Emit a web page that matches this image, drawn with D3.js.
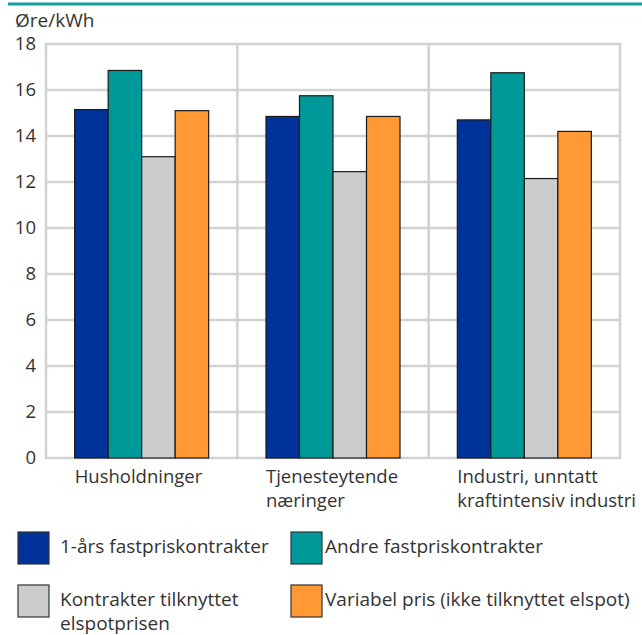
<!DOCTYPE html>
<html>
<head>
<meta charset="utf-8">
<script src="https://cdn.jsdelivr.net/npm/d3@7"></script>
<style>
  body { margin: 0; background: #fff; }
  text { font-family: "Open Sans", "DejaVu Sans", sans-serif; fill: #333; }
</style>
</head>
<body>
<script>
var w = 642, h = 635;

var categories = [
    ["Husholdninger"],
    ["Tjenesteytende", "næringer"],
    ["Industri, unntatt", "kraftintensiv industri"]
];
var series = [
    "1-års fastpriskontrakter",
    "Andre fastpriskontrakter",
    "Kontrakter tilknyttet elspotprisen",
    "Variabel pris (ikke tilknyttet elspot)"
];
var values = [
    [15.15, 14.85, 14.7],   // 1-års fastpris
    [16.85, 15.75, 16.75],  // andre fastpris
    [13.1, 12.45, 12.15],   // elspot
    [15.1, 14.85, 14.2]     // variabel
];
var yTicks = [0, 2, 4, 6, 8, 10, 12, 14, 16, 18];
var colors = ["#003399", "#009999", "#cccccc", "#ff9933"];

var svg = d3.select("body").append("svg")
    .attr("width", w)
    .attr("height", h);

// teal line on top
svg.append("line")
    .attr("x1", 8).attr("x2", w)
    .attr("y1", 4).attr("y2", 4)
    .style("stroke", "#12a0a0")
    .style("stroke-width", 3);

svg.append("text")
    .attr("x", 15)
    .attr("y", 27)
    .style("font-size", "19px")
    .text("Øre/kWh");

var pLeft = 46, pRight = 620, pTop = 44, pBottom = 458;

var x0 = d3.scaleBand()
    .domain(d3.range(categories.length))
    .range([pLeft, pRight])
    .padding(0);

var x1 = d3.scaleBand()
    .domain(d3.range(series.length))
    .range([0, x0.bandwidth()])
    .paddingInner(0)
    .paddingOuter(0.855);

var y = d3.scaleLinear()
    .domain([0, 18])
    .range([pBottom, pTop]);

// grid
var grid = svg.append("g").attr("class", "grid");
grid.selectAll(".hgrid")
    .data(yTicks)
    .enter()
    .append("line")
    .attr("x1", pLeft).attr("x2", pRight)
    .attr("y1", function(d){ return y(d); })
    .attr("y2", function(d){ return y(d); })
    .style("stroke", "#d2d2d2")
    .style("stroke-width", 2.5);

var vlines = d3.range(categories.length + 1).map(function(i){
    return i < categories.length ? x0(i) : pRight;
});
grid.selectAll(".vgrid")
    .data(vlines)
    .enter()
    .append("line")
    .attr("x1", function(d){ return d; })
    .attr("x2", function(d){ return d; })
    .attr("y1", pTop - 1.25).attr("y2", pBottom + 1.25)
    .style("stroke", "#d2d2d2")
    .style("stroke-width", 2.5);

// y tick labels
svg.selectAll(".ylab")
    .data(yTicks)
    .enter()
    .append("text")
    .attr("class", "ylab")
    .attr("x", 36)
    .attr("y", function(d){ return y(d); })
    .attr("dy", "0.35em")
    .attr("text-anchor", "end")
    .style("font-size", "18.5px")
    .text(function(d){ return d; });

// bars
var groups = svg.selectAll(".grp")
    .data(d3.range(categories.length))
    .enter()
    .append("g")
    .attr("transform", function(i){ return "translate(" + x0(i) + ",0)"; });

groups.selectAll("rect")
    .data(function(i){
        return series.map(function(s, j){ return { s: j, v: values[j][i] }; });
    })
    .enter()
    .append("rect")
    .attr("x", function(d){ return x1(d.s); })
    .attr("width", x1.bandwidth())
    .attr("y", function(d){ return y(d.v); })
    .attr("height", function(d){ return y(0) - y(d.v); })
    .style("fill", function(d){ return colors[d.s]; })
    .style("stroke", "#1a1a1a")
    .style("stroke-width", 1.2);

// category labels
var catLabels = svg.selectAll(".cat")
    .data(categories)
    .enter()
    .append("text")
    .attr("class", "cat")
    .attr("y", 483)
    .style("font-size", "18.5px");

catLabels.selectAll("tspan")
    .data(function(d, i){ return d.map(function(t){ return { t: t, i: i }; }); })
    .enter()
    .append("tspan")
    .attr("x", function(d){ return x0(d.i) + x1(0); })
    .attr("dy", function(d, k){ return k === 0 ? 0 : 24; })
    .text(function(d){ return d.t; });

// legend
var legendLines = [
    ["1-års fastpriskontrakter"],
    ["Andre fastpriskontrakter"],
    ["Kontrakter tilknyttet", "elspotprisen"],
    ["Variabel pris (ikke tilknyttet elspot)"]
];
var legPos = [[18, 532], [291, 532], [18, 585], [291, 585]];

var legend = svg.selectAll(".leg")
    .data(series)
    .enter()
    .append("g")
    .attr("class", "leg")
    .attr("transform", function(d, i){ return "translate(" + legPos[i][0] + "," + legPos[i][1] + ")"; });

legend.append("rect")
    .attr("width", 31)
    .attr("height", 32)
    .style("fill", function(d, i){ return colors[i]; })
    .style("stroke", "#333")
    .style("stroke-width", 1.2);

legend.append("text")
    .attr("x", function(d, i){ return i % 2 === 0 ? 42 : 34; })
    .attr("y", function(d, i){ return i < 2 ? 21 : 21; })
    .style("font-size", "19px")
    .selectAll("tspan")
    .data(function(d, i){ return legendLines[i]; })
    .enter()
    .append("tspan")
    .attr("x", function(d){ return d3.select(this.parentNode).attr("x"); })
    .attr("dy", function(d, k){ return k === 0 ? 0 : 24; })
    .text(function(d){ return d; });
</script>
</body>
</html>
